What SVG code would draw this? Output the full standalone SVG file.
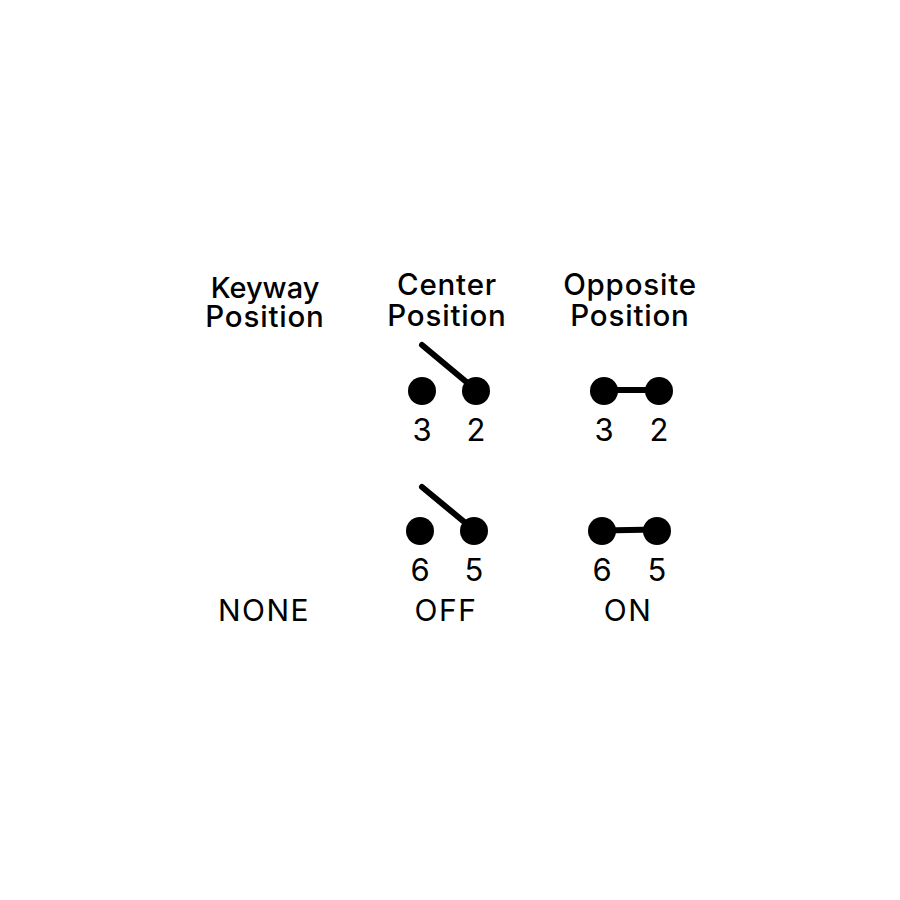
<svg xmlns="http://www.w3.org/2000/svg" width="900" height="900" viewBox="0 0 900 900">
<style>
text{font-family:"Inter","Noto Sans","Liberation Sans",sans-serif;fill:#000;text-anchor:middle}
.h{font-size:29.5px;font-weight:450;letter-spacing:.8px}
.k{letter-spacing:0;font-size:29px}
.n{font-size:31px}
.l{font-size:30px;letter-spacing:1.5px}
.w{stroke:#000;stroke-width:6;stroke-linecap:round;fill:none}
</style>
<rect width="900" height="900" fill="#fff"/>
<g id="headers">
<text class="h k" x="265" y="298">Keyway</text><text class="h" x="265" y="327">Position</text>
<text class="h" x="447" y="295">Center</text><text class="h" x="447" y="326">Position</text>
<text class="h" x="630" y="295">Opposite</text><text class="h" x="630" y="326">Position</text>
</g>
<g id="connectors">
<path class="w" d="M422 345L476 390"/>
<path class="w" d="M604 390H659"/>
<path class="w" d="M422 487L474 530"/>
<path class="w" d="M602 530.5L657 529.5"/>
</g>
<g id="node-c3"><circle cx="422" cy="391" r="14"/><text class="n" x="422" y="441">3</text></g>
<g id="node-c2"><circle cx="476" cy="391" r="14"/><text class="n" x="476" y="441">2</text></g>
<g id="node-o3"><circle cx="604" cy="391" r="14"/><text class="n" x="604" y="441">3</text></g>
<g id="node-o2"><circle cx="659" cy="391" r="14"/><text class="n" x="659" y="441">2</text></g>
<g id="node-c6"><circle cx="420" cy="531" r="14"/><text class="n" x="420" y="581">6</text></g>
<g id="node-c5"><circle cx="474" cy="531" r="14"/><text class="n" x="474" y="581">5</text></g>
<g id="node-o6"><circle cx="602" cy="531" r="14"/><text class="n" x="602" y="581">6</text></g>
<g id="node-o5"><circle cx="657" cy="531" r="14"/><text class="n" x="657" y="581">5</text></g>
<g id="states">
<text class="l" x="264" y="621">NONE</text><text class="l" x="446" y="621">OFF</text><text class="l" x="628" y="621">ON</text>
</g>
</svg>
